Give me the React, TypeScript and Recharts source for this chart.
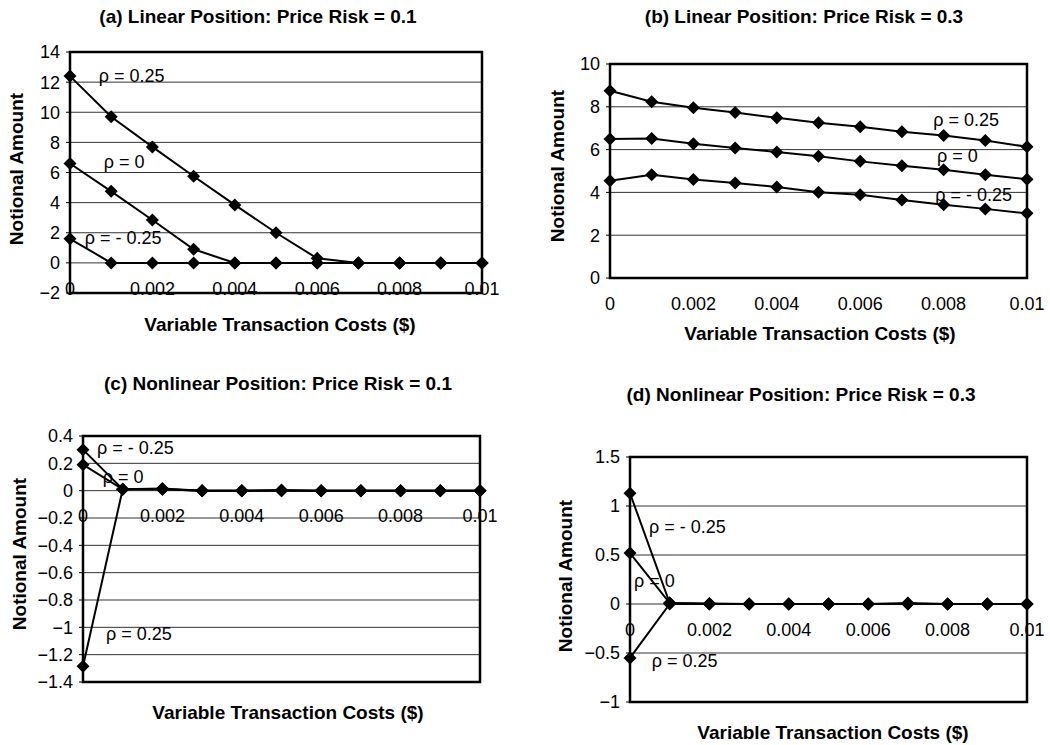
import React from "react";
import { CartesianGrid, Line, LineChart, ReferenceArea, ReferenceDot, XAxis, YAxis } from "recharts";

const FONT = '"Liberation Sans", Arial, sans-serif';

// variable transaction cost ($) for every point on the x axis
const COSTS = [0, 0.001, 0.002, 0.003, 0.004, 0.005, 0.006, 0.007, 0.008, 0.009, 0.01];
const COST_TICKS = [0, 0.002, 0.004, 0.006, 0.008, 0.01];
const COST_TICK_LABELS = ["0", "0.002", "0.004", "0.006", "0.008", "0.01"];

// (a) linear position, price risk 0.1
const A_RHO_POS = [12.4, 9.7, 7.7, 5.75, 3.85, 2.0, 0.3, 0, 0, 0, 0];
const A_RHO_ZERO = [6.6, 4.75, 2.85, 0.9, 0, 0, 0, 0, 0, 0, 0];
const A_RHO_NEG = [1.6, 0, 0, 0, 0, 0, 0, 0, 0, 0, 0];
const A_Y_TICKS = [-2, 0, 2, 4, 6, 8, 10, 12, 14];

// (b) linear position, price risk 0.3
const B_RHO_POS = [8.75, 8.24, 7.96, 7.73, 7.49, 7.26, 7.07, 6.83, 6.66, 6.43, 6.13];
const B_RHO_ZERO = [6.5, 6.52, 6.27, 6.08, 5.89, 5.69, 5.45, 5.25, 5.06, 4.83, 4.62];
const B_RHO_NEG = [4.54, 4.83, 4.6, 4.44, 4.25, 4.01, 3.89, 3.65, 3.42, 3.23, 3.02];
const B_Y_TICKS = [0, 2, 4, 6, 8, 10];

// (c) nonlinear position, price risk 0.1
const C_RHO_POS = [-1.285, 0.01, 0.01, 0, 0, 0, 0, 0, 0, 0, 0];
const C_RHO_ZERO = [0.19, 0.01, 0.01, 0, 0, 0, 0, 0, 0, 0, 0];
const C_RHO_NEG = [0.3, 0.01, 0.015, 0, 0, 0.005, 0, 0, 0, 0, 0];
const C_Y_TICKS = [-1.4, -1.2, -1, -0.8, -0.6, -0.4, -0.2, 0, 0.2, 0.4];

// (d) nonlinear position, price risk 0.3
const D_RHO_POS = [-0.55, 0, 0, 0, 0, 0, 0, 0, 0, 0, 0];
const D_RHO_ZERO = [0.52, 0.01, 0, 0, 0, 0, 0, 0, 0, 0, 0];
const D_RHO_NEG = [1.13, 0.01, 0.005, 0, 0, 0, 0, 0.01, 0, 0, 0];
const D_Y_TICKS = [-1, -0.5, 0, 0.5, 1, 1.5];

const RHO_LABELS = { pos: "ρ = 0.25", zero: "ρ = 0", neg: "ρ = - 0.25" };

type Note = { x: number; y: number; text: string };

type PanelProps = {
  title: string;
  box: { left: number; top: number; width: number; height: number };
  margin: { top: number; right: number; bottom: number; left: number };
  yTicks: number[];
  pos: number[];
  zero: number[];
  neg: number[];
  notes: Note[];
  titleAt: [number, number];
  xTitleAt: [number, number];
  yTitleAt: [number, number];
};

function formatTick(v: number) {
  const s = String(Number(v.toFixed(2)));
  return s.replace("-", "\u2212");
}

function renderDiamond(p: any) {
  const { cx, cy, index, dataKey } = p;
  if (cx == null || cy == null) return <g key={`${dataKey}-${index}`} />;
  const s = 6.5;
  return (
    <path
      key={`${dataKey}-${index}`}
      d={`M${cx},${cy - s}L${cx + s},${cy}L${cx},${cy + s}L${cx - s},${cy}Z`}
      fill="#000"
    />
  );
}

const titleStyle: React.CSSProperties = {
  position: "absolute",
  transform: "translate(-50%, -50%)",
  whiteSpace: "nowrap",
  fontWeight: 700,
  fontSize: 19,
};

function Panel(props: PanelProps) {
  const { title, box, margin, yTicks, pos, zero, neg, notes } = props;
  const rows = COSTS.map((cost, i) => ({ cost, pos: pos[i], zero: zero[i], neg: neg[i] }));
  const yMin = yTicks[0];
  const yMax = yTicks[yTicks.length - 1];

  return (
    <>
      <div style={{ ...titleStyle, left: props.titleAt[0], top: props.titleAt[1] }}>{title}</div>
      <div style={{ position: "absolute", left: box.left, top: box.top }}>
        <LineChart width={box.width} height={box.height} data={rows} margin={margin}>
          <XAxis type="number" dataKey="cost" domain={[0, 0.01]} hide />
          <YAxis
            type="number"
            domain={[yMin, yMax]}
            ticks={yTicks}
            interval={0}
            width={50}
            axisLine={false}
            tickLine={{ stroke: "#000" }}
            tickSize={4}
            tickMargin={6}
            tickFormatter={formatTick}
            tick={{ fill: "#000", fontSize: 18, fontFamily: FONT }}
          />
          <CartesianGrid vertical={false} stroke="#333" strokeWidth={1} />
          <ReferenceArea
            x1={0}
            x2={0.01}
            y1={yMin}
            y2={yMax}
            fill="none"
            fillOpacity={0}
            stroke="#000"
            strokeWidth={2.5}
          />
          <Line dataKey="pos" stroke="#000" strokeWidth={2} dot={renderDiamond} isAnimationActive={false} />
          <Line dataKey="zero" stroke="#000" strokeWidth={2} dot={renderDiamond} isAnimationActive={false} />
          <Line dataKey="neg" stroke="#000" strokeWidth={2} dot={renderDiamond} isAnimationActive={false} />
          {COST_TICKS.map((t, i) => (
            <ReferenceDot
              key={`tick-${t}`}
              x={t}
              y={0}
              r={0}
              stroke="none"
              fill="none"
              label={{
                value: COST_TICK_LABELS[i],
                position: "bottom",
                offset: 19,
                fill: "#000",
                fontSize: 18,
                fontFamily: FONT,
              }}
            />
          ))}
          {notes.map((n) => (
            <ReferenceDot
              key={n.text}
              x={n.x}
              y={n.y}
              r={0}
              stroke="none"
              fill="none"
              label={{
                value: n.text,
                position: "right",
                offset: 0,
                fill: "#000",
                fontSize: 18,
                fontFamily: FONT,
              }}
            />
          ))}
        </LineChart>
      </div>
      <div style={{ ...titleStyle, left: props.xTitleAt[0], top: props.xTitleAt[1] }}>
        Variable Transaction Costs ($)
      </div>
      <div
        style={{
          ...titleStyle,
          left: props.yTitleAt[0],
          top: props.yTitleAt[1],
          transform: "translate(-50%, -50%) rotate(-90deg)",
        }}
      >
        Notional Amount
      </div>
    </>
  );
}

export default function App() {
  return (
    <div
      style={{
        position: "absolute",
        left: 0,
        top: 0,
        width: 1050,
        height: 745,
        background: "#fff",
        fontFamily: FONT,
        color: "#000",
        overflow: "hidden",
      }}
    >
      <Panel
        title="(a) Linear Position: Price Risk = 0.1"
        box={{ left: 0, top: 0, width: 525, height: 372 }}
        margin={{ top: 52, right: 43, bottom: 79, left: 20 }}
        yTicks={A_Y_TICKS}
        pos={A_RHO_POS}
        zero={A_RHO_ZERO}
        neg={A_RHO_NEG}
        notes={[
          { x: 0.0007, y: 12.4, text: RHO_LABELS.pos },
          { x: 0.00082, y: 6.7, text: RHO_LABELS.zero },
          { x: 0.00036, y: 1.65, text: RHO_LABELS.neg },
        ]}
        titleAt={[258, 17]}
        xTitleAt={[280, 325]}
        yTitleAt={[17, 169]}
      />
      <Panel
        title="(b) Linear Position: Price Risk = 0.3"
        box={{ left: 525, top: 0, width: 525, height: 372 }}
        margin={{ top: 64, right: 23, bottom: 94, left: 35 }}
        yTicks={B_Y_TICKS}
        pos={B_RHO_POS}
        zero={B_RHO_ZERO}
        neg={B_RHO_NEG}
        notes={[
          { x: 0.00775, y: 7.41, text: RHO_LABELS.pos },
          { x: 0.00784, y: 5.74, text: RHO_LABELS.zero },
          { x: 0.0078, y: 3.92, text: RHO_LABELS.neg },
        ]}
        titleAt={[804, 17]}
        xTitleAt={[820, 334]}
        yTitleAt={[558, 166]}
      />
      <Panel
        title="(c) Nonlinear Position: Price Risk = 0.1"
        box={{ left: 0, top: 372, width: 525, height: 373 }}
        margin={{ top: 64, right: 45, bottom: 63, left: 33 }}
        yTicks={C_Y_TICKS}
        pos={C_RHO_POS}
        zero={C_RHO_ZERO}
        neg={C_RHO_NEG}
        notes={[
          { x: 0.00035, y: 0.315, text: RHO_LABELS.neg },
          { x: 0.0005, y: 0.105, text: RHO_LABELS.zero },
          { x: 0.00058, y: -1.046, text: RHO_LABELS.pos },
        ]}
        titleAt={[278, 384]}
        xTitleAt={[288, 713]}
        yTitleAt={[20, 554]}
      />
      <Panel
        title="(d) Nonlinear Position: Price Risk = 0.3"
        box={{ left: 525, top: 372, width: 525, height: 373 }}
        margin={{ top: 85, right: 23, bottom: 43, left: 55 }}
        yTicks={D_Y_TICKS}
        pos={D_RHO_POS}
        zero={D_RHO_ZERO}
        neg={D_RHO_NEG}
        notes={[
          { x: 0.00048, y: 0.79, text: RHO_LABELS.neg },
          { x: 0.0001, y: 0.24, text: RHO_LABELS.zero },
          { x: 0.00055, y: -0.58, text: RHO_LABELS.pos },
        ]}
        titleAt={[801, 395]}
        xTitleAt={[833, 733]}
        yTitleAt={[566, 576]}
      />
    </div>
  );
}
